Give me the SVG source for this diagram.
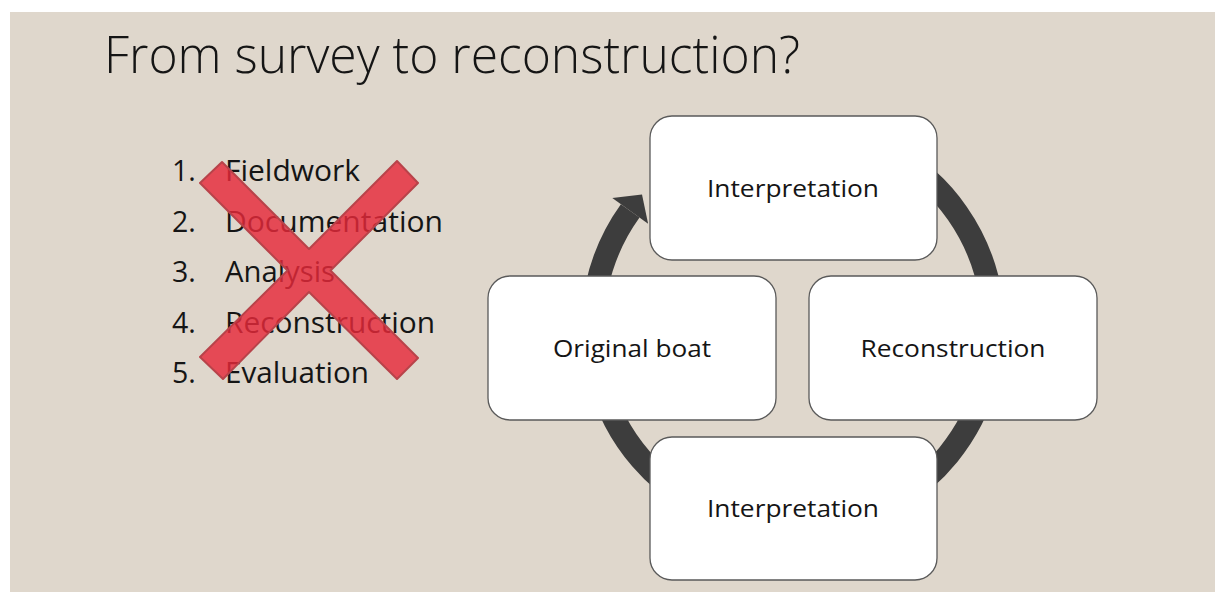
<svg xmlns="http://www.w3.org/2000/svg" width="1215" height="592" viewBox="0 0 1215 592">
  <style>
    .title { font-family: "Open Sans", "Liberation Sans", sans-serif; font-weight: 300; font-size: 51px; fill: #151515; }
    .item { font-family: "Open Sans", "Liberation Sans", sans-serif; font-size: 28.5px; fill: #151515; }
    .box { fill: #ffffff; stroke: #5a5a5a; stroke-width: 1.3; }
    .label { font-family: "Open Sans", "Liberation Sans", sans-serif; font-size: 24.5px; fill: #151515; text-anchor: middle; }
    .ring { fill: none; stroke: #3d3d3d; stroke-width: 23; }
    .head { fill: #3d3d3d; }
    .cross { fill: #e62a3a; fill-opacity: 0.82; stroke: #b8434a; stroke-width: 2; stroke-linejoin: round; }
  </style>

  <!-- page -->
  <rect x="0" y="0" width="1215" height="592" fill="#ffffff"/>
  <rect x="10" y="12" width="1205" height="580" fill="#dfd7cc"/>

  <text class="title" x="104" y="73" textLength="696" lengthAdjust="spacingAndGlyphs">From survey to reconstruction?</text>

  <!-- numbered list -->
  <g id="steps">
    <text class="item" x="172" y="181">1.</text>
    <text class="item" x="225" y="181" textLength="135" lengthAdjust="spacingAndGlyphs">Fieldwork</text>
    <text class="item" x="172" y="232">2.</text>
    <text class="item" x="225" y="232" textLength="218" lengthAdjust="spacingAndGlyphs">Documentation</text>
    <text class="item" x="172" y="282">3.</text>
    <text class="item" x="225" y="282" textLength="110" lengthAdjust="spacingAndGlyphs">Analysis</text>
    <text class="item" x="172" y="333">4.</text>
    <text class="item" x="225" y="333" textLength="210" lengthAdjust="spacingAndGlyphs">Reconstruction</text>
    <text class="item" x="172" y="383">5.</text>
    <text class="item" x="225" y="383" textLength="144" lengthAdjust="spacingAndGlyphs">Evaluation</text>
  </g>

  <!-- cross over the list -->
  <polygon id="cross" class="cross" points="222,162 309,249 397,161 418,183 330.5,270.5 418,358 397,379 309,292 223,379 200,357 287.5,270.5 200,183"/>

  <!-- cycle arrow behind the nodes -->
  <g id="connectors">
    <path class="ring" d="M 810.5 128.3 A 200.5 200.5 0 1 1 630.2 210.9"/>
    <polygon class="head" points="612.3,198.1 642,194.5 648.1,223.7"/>
  </g>

  <g id="node-interpretation-top">
    <rect class="box" x="650" y="116" width="287" height="144" rx="22" ry="22"/>
    <text class="label" x="793" y="197" textLength="172" lengthAdjust="spacingAndGlyphs">Interpretation</text>
  </g>

  <g id="node-original-boat">
    <rect class="box" x="488" y="276" width="288" height="144" rx="22" ry="22"/>
    <text class="label" x="632" y="357" textLength="158" lengthAdjust="spacingAndGlyphs">Original boat</text>
  </g>

  <g id="node-reconstruction">
    <rect class="box" x="809" y="276" width="288" height="144" rx="22" ry="22"/>
    <text class="label" x="953" y="357" textLength="185" lengthAdjust="spacingAndGlyphs">Reconstruction</text>
  </g>

  <g id="node-interpretation-bottom">
    <rect class="box" x="650" y="437" width="287" height="143" rx="22" ry="22"/>
    <text class="label" x="793" y="517" textLength="172" lengthAdjust="spacingAndGlyphs">Interpretation</text>
  </g>
</svg>
